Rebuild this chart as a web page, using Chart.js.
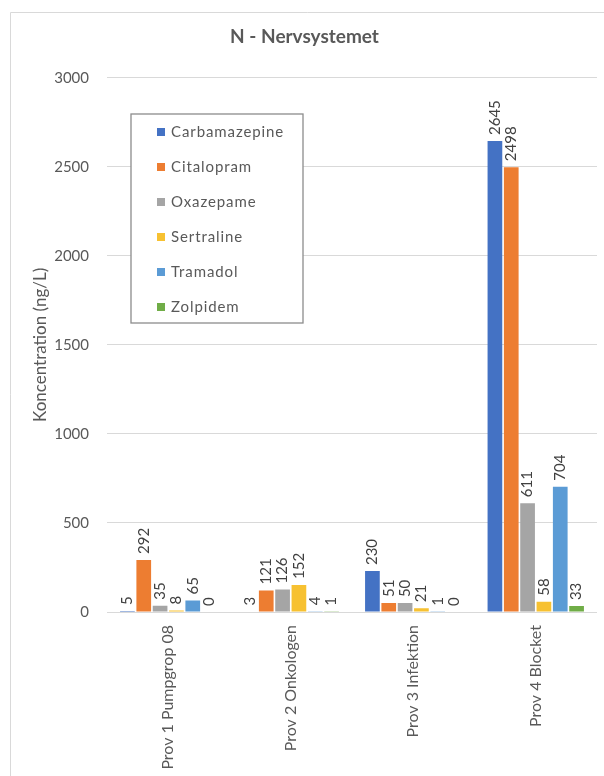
<!DOCTYPE html>
<html>
<head>
<meta charset="utf-8">
<title>N - Nervsystemet</title>
<script src="https://cdn.jsdelivr.net/npm/chart.js@4/dist/chart.umd.min.js"></script>
<style>
  html, body { margin: 0; padding: 0; background: #ffffff; overflow: hidden; }
  .chart-box { position: relative; width: 604px; height: 776px; }
</style>
</head>
<body>
<div class="chart-box">
  <canvas id="nervChart"></canvas>
</div>
<script>
const samples = ["Prov 1 Pumpgrop 08", "Prov 2 Onkologen", "Prov 3 Infektion", "Prov 4 Blocket"];

const carbamazepine = [5, 3, 230, 2645];
const citalopram = [292, 121, 51, 2498];
const oxazepame = [35, 126, 50, 611];
const sertraline = [8, 152, 21, 58];
const tramadol = [65, 4, 1, 704];
const zolpidem = [0, 1, 0, 33];

const yTicks = [0, 500, 1000, 1500, 2000, 2500, 3000];

const FONT = "Lato, 'Open Sans', sans-serif";
const TEXT = "#595959";

// thin frame around the whole chart
const frame = {
  id: "frame",
  beforeDraw(chart) {
    const ctx = chart.ctx;
    ctx.save();
    ctx.strokeStyle = "#d9d9d9";
    ctx.lineWidth = 1;
    ctx.beginPath();
    ctx.moveTo(10.5, chart.height);
    ctx.lineTo(10.5, 12.5);
    ctx.lineTo(chart.width, 12.5);
    ctx.stroke();
    ctx.restore();
  }
};

// vertical value labels above each bar
const barValues = {
  id: "barValues",
  afterDatasetsDraw(chart) {
    const ctx = chart.ctx;
    ctx.save();
    ctx.font = "15px " + FONT;
    ctx.fillStyle = "#404040";
    ctx.textAlign = "left";
    ctx.textBaseline = "middle";
    chart.data.datasets.forEach((ds, i) => {
      chart.getDatasetMeta(i).data.forEach((bar, j) => {
        ctx.save();
        ctx.translate(bar.x, bar.y - 6);
        ctx.rotate(-Math.PI / 2);
        ctx.fillText(String(ds.data[j]), 0, 0);
        ctx.restore();
      });
    });
    ctx.restore();
  }
};

// boxed legend sitting inside the plot area
const boxLegend = {
  id: "boxLegend",
  afterDraw(chart) {
    const ctx = chart.ctx;
    const x0 = 131, y0 = 114, w = 172, h = 209;
    ctx.save();
    ctx.strokeStyle = "#8c8c8c";
    ctx.lineWidth = 1.3;
    ctx.fillStyle = "#ffffff";
    ctx.fillRect(x0, y0, w, h);
    ctx.strokeRect(x0, y0, w, h);
    ctx.font = "15px " + FONT;
    ctx.textBaseline = "middle";
    ctx.letterSpacing = "0.9px";
    chart.data.datasets.forEach((ds, i) => {
      const cy = y0 + 18 + i * 35;
      ctx.fillStyle = ds.backgroundColor;
      ctx.fillRect(157, cy - 4, 8, 8);
      ctx.fillStyle = TEXT;
      ctx.fillText(ds.label, 171, cy);
    });
    ctx.restore();
  }
};

document.addEventListener("DOMContentLoaded", function () {
  const ctx = document.getElementById("nervChart").getContext("2d");
  new Chart(ctx, {
    type: "bar",
    data: {
      labels: samples,
      datasets: [
        { label: "Carbamazepine", data: carbamazepine, backgroundColor: "#4472c4" },
        { label: "Citalopram", data: citalopram, backgroundColor: "#ed7d31" },
        { label: "Oxazepame", data: oxazepame, backgroundColor: "#a5a5a5" },
        { label: "Sertraline", data: sertraline, backgroundColor: "#f7c131" },
        { label: "Tramadol", data: tramadol, backgroundColor: "#5b9bd5" },
        { label: "Zolpidem", data: zolpidem, backgroundColor: "#70ad47" },
      ],
    },
    options: {
      responsive: true,
      maintainAspectRatio: false,
      animation: false,
      layout: { padding: { left: 12, right: 7, top: 13, bottom: 0 } },
      plugins: {
        legend: { display: false },
        tooltip: { enabled: false },
        title: {
          display: true,
          text: "N - Nervsystemet",
          color: TEXT,
          font: { family: FONT, size: 19, weight: "bold" },
          padding: { top: 12, bottom: 30 },
        },
      },
      scales: {
        x: {
          grid: { display: false, drawTicks: false },
          border: { display: false },
          ticks: {
            color: TEXT,
            font: { family: FONT, size: 16 },
            minRotation: 90,
            maxRotation: 90,
            padding: 13,
          },
          afterFit(scale) { scale.height = 164; },
        },
        y: {
          min: 0,
          max: 3000,
          afterBuildTicks(scale) { scale.ticks = yTicks.map(v => ({ value: v })); },
          grid: { color: "#d9d9d9", lineWidth: 1, drawTicks: false },
          border: { display: false },
          ticks: {
            color: TEXT,
            font: { family: FONT, size: 15 },
            padding: 18,
            callback: (v) => String(v),
          },
          title: {
            display: true,
            text: "Koncentration (ng/L)",
            color: TEXT,
            font: { family: FONT, size: 17 },
            padding: { top: 18, bottom: 0 },
          },
          afterFit(scale) { scale.width = 95; },
        },
      },
    },
    plugins: [frame, barValues, boxLegend],
  });
});
</script>
</body>
</html>
